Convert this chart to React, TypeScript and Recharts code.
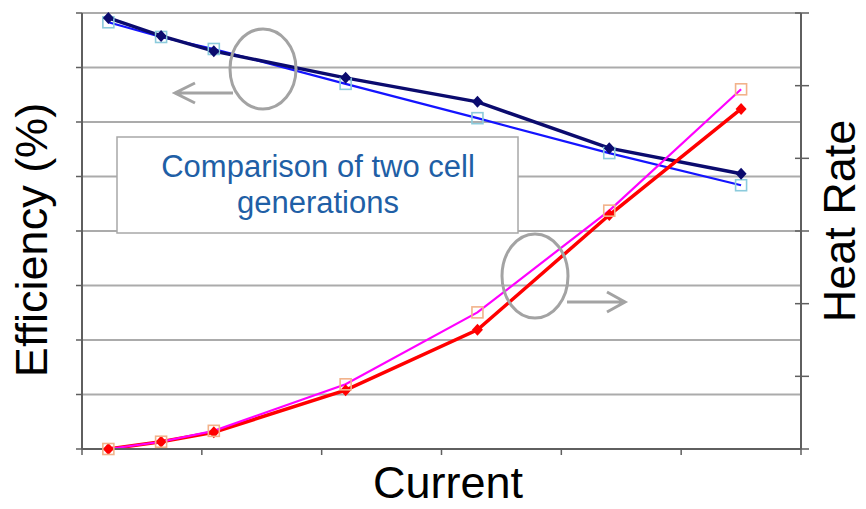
import { CartesianGrid, ComposedChart, Line, XAxis, YAxis } from "recharts";

const current = [0.22, 0.66, 1.1, 2.2, 3.3, 4.4, 5.5];
const efficiencyOld = [7.91, 7.58, 7.3, 6.81, 6.37, 5.52, 5.05];
const efficiencyNew = [7.83, 7.56, 7.34, 6.7, 6.07, 5.43, 4.84];
const heatRateOld = [0, 0.1, 0.23, 0.81, 1.64, 3.22, 4.68];
const heatRateNew = [0, 0.1, 0.25, 0.89, 1.88, 3.28, 4.95];

const xTicks = [0, 1, 2, 3, 4, 5, 6];
const leftTicks = [0, 1, 2, 3, 4, 5, 6, 7, 8];
const rightTicks = [0, 1, 2, 3, 4, 5, 6];

const data = current.map((x, i) => ({
  x,
  effOld: efficiencyOld[i],
  effNew: efficiencyNew[i],
  heatOld: heatRateOld[i],
  heatNew: heatRateNew[i],
}));

const AXIS = "#5f5f5f";
const GRID = "#ababab";
const FONT = "'Liberation Sans', Arial, sans-serif";

function diamond(color: string) {
  return (p: any) => {
    const { cx, cy, index } = p;
    if (cx == null || cy == null) return <g key={index} />;
    return (
      <path
        key={index}
        d={`M${cx},${cy - 6} L${cx + 5.5},${cy} L${cx},${cy + 6} L${cx - 5.5},${cy} Z`}
        fill={color}
      />
    );
  };
}

function square(color: string) {
  return (p: any) => {
    const { cx, cy, index } = p;
    if (cx == null || cy == null) return <g key={index} />;
    return (
      <rect key={index} x={cx - 5.5} y={cy - 5.5} width={11} height={11} fill="none" stroke={color} strokeWidth={1.6} />
    );
  };
}

const leftTick = (p: any) => <line x1={p.x - 6} x2={p.x} y1={p.y} y2={p.y} stroke={AXIS} strokeWidth={1.5} />;
const rightTick = (p: any) => <line x1={p.x - 6} x2={p.x + 8} y1={p.y} y2={p.y} stroke={AXIS} strokeWidth={1.5} />;
const bottomTick = (p: any) => <line x1={p.x} x2={p.x} y1={p.y} y2={p.y + 6} stroke={AXIS} strokeWidth={1.5} />;

export default function App() {
  return (
    <div style={{ position: "absolute", left: 0, top: 0, width: 866, height: 509, background: "#fff" }}>
      <ComposedChart width={866} height={509} data={data} margin={{ top: 13, right: 0, bottom: 0, left: 0 }}>
        <CartesianGrid yAxisId="left" vertical={false} stroke={GRID} strokeWidth={2} />
        <XAxis
          dataKey="x"
          type="number"
          domain={[0, 6]}
          ticks={xTicks}
          height={60}
          tickLine={false}
          tickSize={0}
          tickMargin={0}
          tick={bottomTick}
          axisLine={{ stroke: AXIS, strokeWidth: 2 }}
        />
        <YAxis
          yAxisId="left"
          domain={[0, 8]}
          ticks={leftTicks}
          width={82}
          tickLine={false}
          tickSize={0}
          tickMargin={0}
          tick={leftTick}
          axisLine={{ stroke: AXIS, strokeWidth: 2 }}
        />
        <YAxis
          yAxisId="right"
          orientation="right"
          domain={[0, 6]}
          ticks={rightTicks}
          width={65}
          tickLine={false}
          tickSize={0}
          tickMargin={0}
          tick={rightTick}
          axisLine={{ stroke: AXIS, strokeWidth: 2 }}
        />
        <Line yAxisId="left" dataKey="effNew" stroke="#1414ff" strokeWidth={2.2} dot={square("#8ccbdc")} isAnimationActive={false} />
        <Line yAxisId="left" dataKey="effOld" stroke="#0b0b6e" strokeWidth={3.5} dot={diamond("#0b0b6e")} isAnimationActive={false} />
        <Line yAxisId="right" dataKey="heatOld" stroke="#ff0000" strokeWidth={3.5} dot={diamond("#ff0000")} isAnimationActive={false} />
        <Line yAxisId="right" dataKey="heatNew" stroke="#ff00ff" strokeWidth={2.2} dot={square("#f2b28a")} isAnimationActive={false} />
      </ComposedChart>
      <svg width={866} height={509} style={{ position: "absolute", left: 0, top: 0, pointerEvents: "none" }}>
        <g fill="none" stroke="#a3a3a3" strokeWidth={3}>
          <ellipse cx={263} cy={69} rx={33} ry={40} />
          <path d="M233,93 L175,93 M195,83 L175,93 L195,103" />
          <ellipse cx={535} cy={276} rx={33} ry={42} />
          <path d="M567,302 L625,302 M607,292 L625,302 L607,312" />
        </g>
        <rect x={117} y={137} width={401} height={96} fill="#fff" stroke="#a8a8a8" strokeWidth={1.5} />
        <g fontFamily={FONT} fontSize={31} fill="#1f5fa6" textAnchor="middle">
          <text x={318} y={177}>Comparison of two cell</text>
          <text x={318} y={213}>generations</text>
        </g>
        <g fontFamily={FONT} fontSize={45} fill="#000" textAnchor="middle">
          <text transform="translate(47,240) rotate(-90)">Efficiency (%)</text>
          <text transform="translate(855,221) rotate(-90)">Heat Rate</text>
          <text x={448} y={498}>Current</text>
        </g>
      </svg>
    </div>
  );
}
